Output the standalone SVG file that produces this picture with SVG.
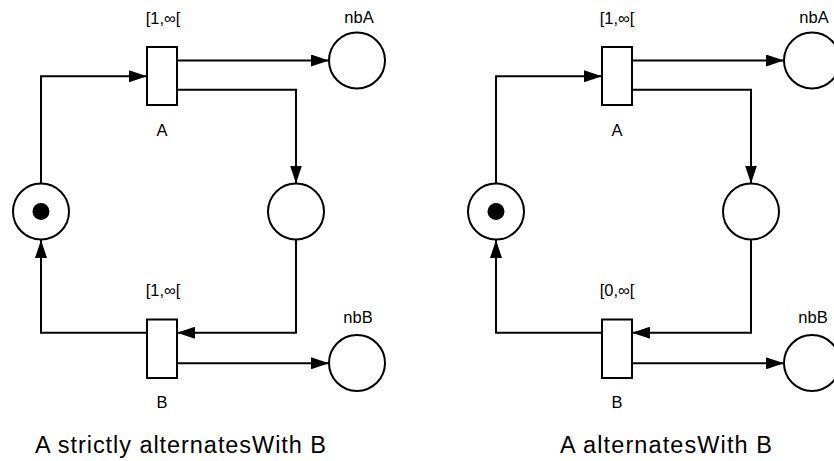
<svg xmlns="http://www.w3.org/2000/svg" width="834" height="461" viewBox="0 0 834 461">
<style>
.pl{fill:#fff;stroke:#000;stroke-width:2}
.tr{fill:#fff;stroke:#000;stroke-width:2}
.tok{fill:#000}
.ar{fill:none;stroke:#000;stroke-width:2;marker-end:url(#ah)}
.lb{font-family:"Liberation Sans",Arial,sans-serif;font-size:16.5px;fill:#000;text-anchor:middle}
.cap{font-family:"Liberation Sans",Arial,sans-serif;font-size:23.5px;fill:#000}
</style>
<defs>
<marker id="ah" markerUnits="userSpaceOnUse" markerWidth="18" markerHeight="12" refX="18" refY="6" orient="auto">
<path d="M0,0 L18,6 L0,12 z" fill="#000"/>
</marker>
</defs>
<rect width="834" height="461" fill="#fff"/>
<g id="connectors">
<path class="ar" d="M41,183.5 V76.3 H147"/>
<path class="ar" d="M177,60.5 H329"/>
<path class="ar" d="M177,89.7 H296 V183.5"/>
<path class="ar" d="M296,239.5 V332.7 H177"/>
<path class="ar" d="M147,332.7 H41 V240"/>
<path class="ar" d="M177,363.3 H329"/>
<path class="ar" d="M496,183.5 V76.3 H602"/>
<path class="ar" d="M632,60.5 H784"/>
<path class="ar" d="M632,89.7 H751 V183.5"/>
<path class="ar" d="M751,239.5 V332.7 H632"/>
<path class="ar" d="M602,332.7 H496 V240"/>
<path class="ar" d="M632,363.3 H784"/>
</g>
<g id="L_p0"><circle class="pl" cx="41" cy="211.5" r="28"/><circle class="tok" cx="41" cy="211.5" r="8.5"/></g>
<g id="L_p1"><circle class="pl" cx="296" cy="211.5" r="28"/></g>
<g id="L_nbA"><circle class="pl" cx="357" cy="60.5" r="28"/><text class="lb" x="359" y="23.3">nbA</text></g>
<g id="L_nbB"><circle class="pl" cx="357" cy="363" r="28"/><text class="lb" x="358" y="322.7">nbB</text></g>
<g id="L_A"><rect class="tr" x="147" y="47" width="30" height="58"/><text class="lb" x="163" y="24">[1,∞[</text><text class="lb" x="162" y="136">A</text></g>
<g id="L_B"><rect class="tr" x="147" y="319.5" width="30" height="58.5"/><text class="lb" x="163" y="296">[1,∞[</text><text class="lb" x="162" y="408.3">B</text></g>
<g id="R_p0"><circle class="pl" cx="496" cy="211.5" r="28"/><circle class="tok" cx="496" cy="211.5" r="8.5"/></g>
<g id="R_p1"><circle class="pl" cx="751" cy="211.5" r="28"/></g>
<g id="R_nbA"><circle class="pl" cx="812" cy="60.5" r="28"/><text class="lb" x="814" y="23.3">nbA</text></g>
<g id="R_nbB"><circle class="pl" cx="812" cy="363" r="28"/><text class="lb" x="813" y="322.7">nbB</text></g>
<g id="R_A"><rect class="tr" x="602" y="47" width="30" height="58"/><text class="lb" x="617" y="24">[1,∞[</text><text class="lb" x="617" y="136">A</text></g>
<g id="R_B"><rect class="tr" x="602" y="319.5" width="30" height="58.5"/><text class="lb" x="617" y="296">[0,∞[</text><text class="lb" x="617" y="408.3">B</text></g>
<text class="cap" x="35" y="452.7" textLength="291">A strictly alternatesWith B</text>
<text class="cap" x="560" y="452.7" textLength="212">A alternatesWith B</text>
</svg>
